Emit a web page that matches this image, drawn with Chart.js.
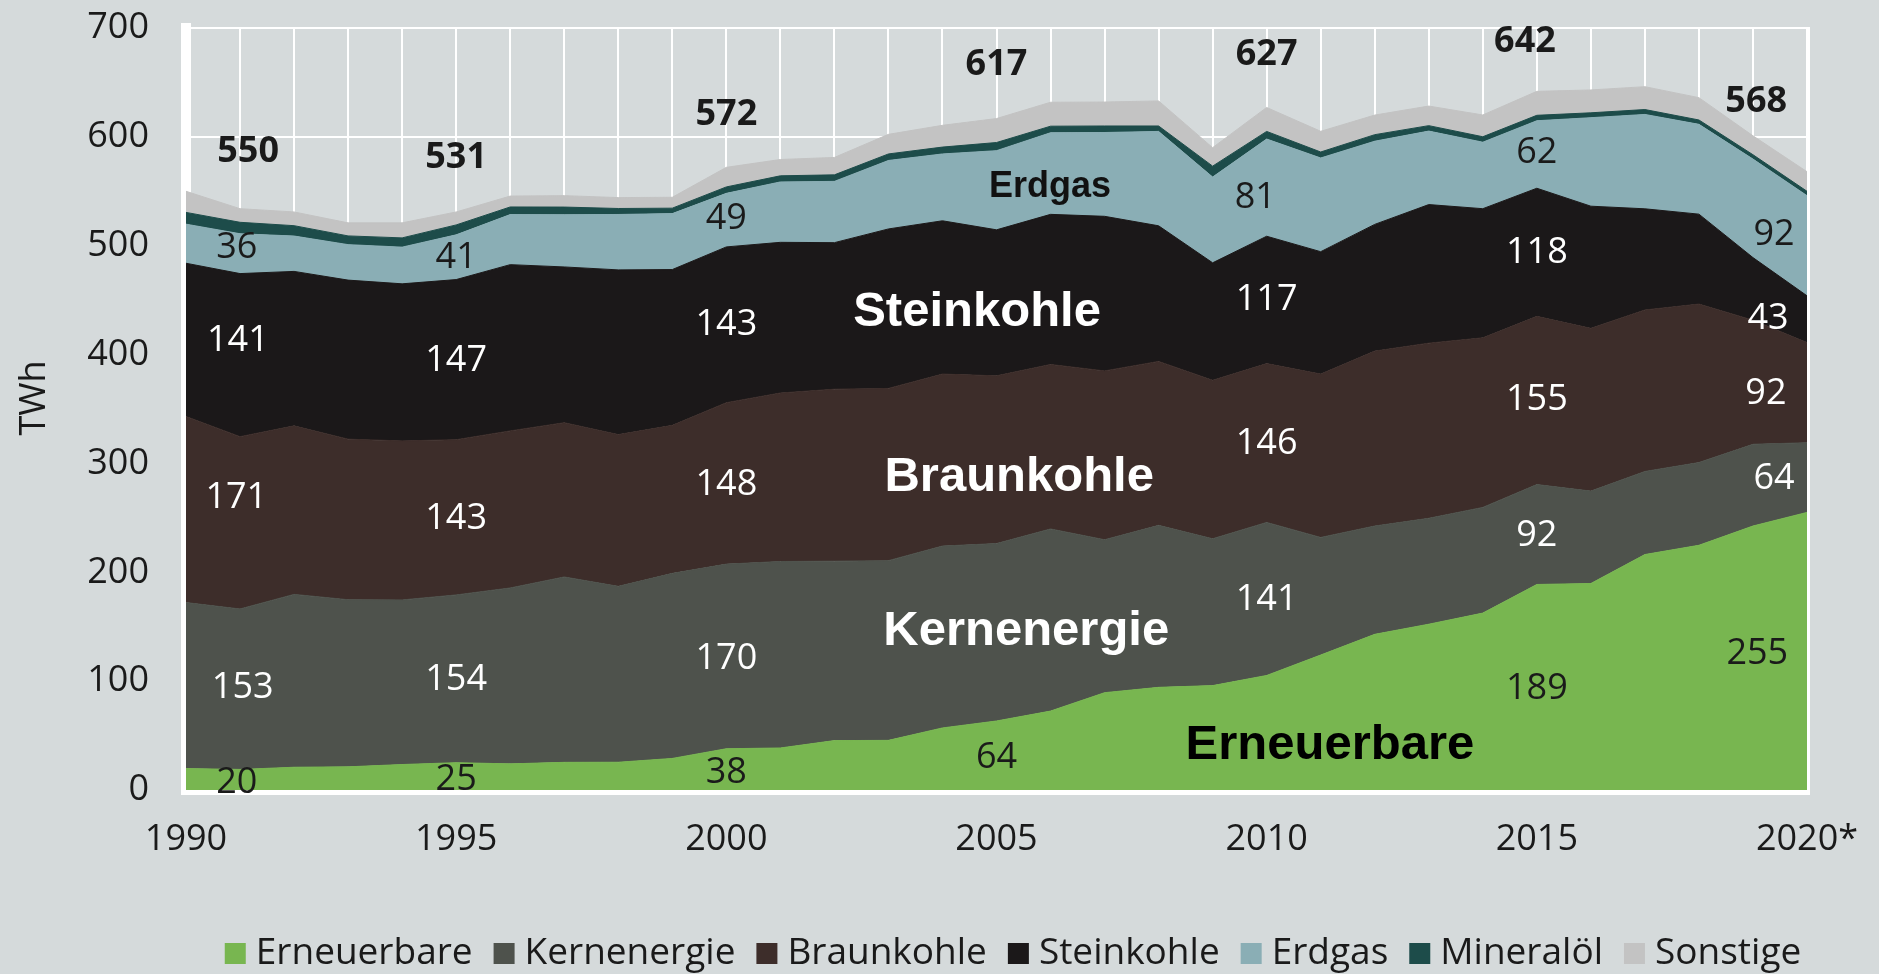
<!DOCTYPE html>
<html>
<head>
<meta charset="utf-8">
<title>Bruttostromerzeugung</title>
<script src="https://cdn.jsdelivr.net/npm/chart.js@4.4.1/dist/chart.umd.min.js"></script>
<style>
    html, body { margin: 0; padding: 0; background: #d5dadb; }
    canvas { display: block; }
</style>
</head>
<body>
<canvas id="chart" width="1879" height="974"></canvas>
<script>
(function () {
    'use strict';

    // categories
    var years = [1990, 1991, 1992, 1993, 1994, 1995, 1996, 1997, 1998, 1999,
                 2000, 2001, 2002, 2003, 2004, 2005, 2006, 2007, 2008, 2009,
                 2010, 2011, 2012, 2013, 2014, 2015, 2016, 2017, 2018, 2019, 2020];

    var tickYears = [1990, 1995, 2000, 2005, 2010, 2015, 2020];
    var tickTexts = ['1990', '1995', '2000', '2005', '2010', '2015', '2020*'];

    // TWh
    var erneuerbare = [19.7, 18.9, 20.9, 21.3, 23.4, 25.1, 24.0, 25.4, 25.5, 29.0,
                       37.9, 38.6, 45.4, 45.6, 57.0, 63.4, 72.5, 89.4, 94.3, 95.9,
                       105.2, 124.0, 143.0, 152.3, 162.5, 188.8, 189.7, 216.3, 224.8, 242.5, 255];
    var kernenergie = [152.5, 147.4, 158.8, 153.5, 151.2, 154.1, 161.6, 170.3, 161.6, 170.0,
                       169.6, 171.3, 164.8, 165.1, 167.1, 163.0, 167.3, 140.5, 148.8, 134.9,
                       140.6, 108.0, 99.5, 97.3, 97.1, 91.8, 84.9, 76.3, 76.0, 75.1, 64];
    var braunkohle = [170.9, 158.3, 154.8, 147.5, 146.1, 142.6, 144.3, 141.7, 139.4, 136.0,
                      148.3, 154.8, 158.0, 158.2, 158.0, 154.1, 151.1, 155.1, 150.6, 145.6,
                      145.9, 150.1, 160.7, 160.9, 155.8, 154.5, 149.5, 148.4, 145.6, 114.0, 92];
    var steinkohle = [140.8, 149.8, 141.9, 146.1, 144.3, 147.1, 152.7, 143.1, 151.3, 143.1,
                      143.1, 138.4, 134.6, 146.5, 140.8, 134.1, 137.9, 142.0, 124.6, 107.9,
                      117.0, 112.4, 116.4, 127.3, 118.6, 117.7, 112.2, 92.9, 82.6, 57.5, 43];
    var erdgas = [35.9, 36.6, 32.5, 32.6, 33.7, 41.1, 46.0, 48.0, 50.9, 51.4,
                  49.2, 55.5, 56.3, 62.9, 61.4, 72.7, 75.0, 77.0, 86.7, 78.8,
                  89.3, 86.1, 76.4, 67.5, 61.1, 62.0, 81.3, 86.7, 82.5, 90.5, 92];
    var mineraloel = [10.8, 10.5, 9.5, 8.0, 8.5, 9.1, 7.0, 7.0, 5.5, 5.0,
                      5.9, 5.6, 6.0, 6.0, 6.3, 7.5, 6.0, 6.0, 5.0, 10.0,
                      7.0, 5.5, 6.0, 5.0, 5.0, 5.0, 4.5, 4.5, 4.0, 4.0, 4.0];
    var sonstige = [19.4, 12.5, 12.6, 12.0, 13.8, 11.9, 10.0, 10.5, 10.0, 10.0,
                    18.0, 15.0, 16.0, 18.0, 20.0, 22.0, 22.0, 22.0, 23.0, 17.0,
                    22.0, 19.0, 18.0, 18.0, 20.0, 22.0, 21.0, 21.0, 20.5, 17.4, 18.0];

    var seriesNames = ['Erneuerbare', 'Kernenergie', 'Braunkohle', 'Steinkohle', 'Erdgas', 'Mineralöl', 'Sonstige'];
    var seriesData = [erneuerbare, kernenergie, braunkohle, steinkohle, erdgas, mineraloel, sonstige];
    var seriesColors = ['#78b650', '#4e524c', '#3d2d2a', '#1b1819', '#8aaeb5', '#1d4c4a', '#c3c3c3'];

    // annotations: [year, TWh, text]
    var totalLabels = [
        [1991.15, 586, '550'], [1995, 580.6, '531'], [2000, 620, '572'], [2005, 666, '617'],
        [2010, 675, '627'], [2014.78, 687, '642'], [2019.06, 632, '568']
    ];
    var darkLabels = [
        [1990.94, 498, '36'], [1990.94, 6.5, '20'], [1995, 488.7, '41'], [1995, 9.2, '25'],
        [2000, 524.5, '49'], [2000, 15.6, '38'], [2005, 29.4, '64'], [2009.79, 543.8, '81'],
        [2015, 585.2, '62'], [2015, 92.8, '189'], [2019.39, 509.8, '92'], [2019.08, 124.9, '255']
    ];
    var lightLabels = [
        [1990.96, 412.5, '141'], [1990.93, 268.2, '171'], [1991.05, 93.7, '153'],
        [1995, 394.1, '147'], [1995, 249, '143'], [1995, 101, '154'],
        [2000, 427.2, '143'], [2000, 280.2, '148'], [2000, 120.3, '170'],
        [2010, 450.1, '117'], [2010, 317.8, '146'], [2010, 174.5, '141'],
        [2015, 493.3, '118'], [2015, 358.3, '155'], [2015, 233.3, '92'],
        [2019.28, 432.7, '43'], [2019.24, 363.8, '92'], [2019.39, 285.7, '64']
    ];
    var nameLabels = [
        [2004.64, 439.1, 'Steinkohle', '#ffffff', 49],
        [2005.42, 287.5, 'Braunkohle', '#ffffff', 49],
        [2005.55, 146, 'Kernenergie', '#ffffff', 49],
        [2011.17, 41.3, 'Erneuerbare', '#000000', 49],
        [2005.99, 553.9, 'Erdgas', '#111111', 36]
    ];

    var textColor = '#1a1a1a';
    var numFont = '"Open Sans", "Noto Sans", sans-serif';
    var boldFont = '"Liberation Sans", Arial, sans-serif';

    var datasets = seriesNames.map(function (name, i) {
        return {
            label: name,
            data: seriesData[i],
            backgroundColor: seriesColors[i],
            borderColor: seriesColors[i],
            borderWidth: 1,
            pointRadius: 0,
            pointHoverRadius: 0,
            tension: 0,
            fill: i === 0 ? 'origin' : '-1'
        };
    });

    var overlay = {
        id: 'overlay',
        afterDraw: function (chart) {
            var ctx = chart.ctx,
                xs = chart.scales.x,
                ys = chart.scales.y,
                area = chart.chartArea;

            function px(yr) { return xs.getPixelForValue(yr - years[0]); }

            ctx.save();

            // right frame edge
            ctx.strokeStyle = '#ffffff';
            ctx.lineWidth = 3;
            ctx.beginPath();
            ctx.moveTo(area.right + 1.5, area.top - 1);
            ctx.lineTo(area.right + 1.5, area.bottom + 5);
            ctx.stroke();

            ctx.textAlign = 'center';
            ctx.textBaseline = 'middle';

            ctx.font = 'bold 36px ' + numFont;
            ctx.fillStyle = textColor;
            totalLabels.forEach(function (l) {
                ctx.fillText(l[2], px(l[0]), ys.getPixelForValue(l[1]));
            });

            ctx.font = '36px ' + numFont;
            darkLabels.forEach(function (l) {
                ctx.fillText(l[2], px(l[0]), ys.getPixelForValue(l[1]));
            });
            ctx.fillStyle = '#ffffff';
            lightLabels.forEach(function (l) {
                ctx.fillText(l[2], px(l[0]), ys.getPixelForValue(l[1]));
            });

            nameLabels.forEach(function (l) {
                ctx.font = 'bold ' + l[4] + 'px ' + boldFont;
                ctx.fillStyle = l[3];
                ctx.fillText(l[2], px(l[0]), ys.getPixelForValue(l[1]));
            });

            // axis title
            ctx.save();
            ctx.translate(35, 398);
            ctx.rotate(-Math.PI / 2);
            ctx.font = '36px ' + numFont;
            ctx.fillStyle = textColor;
            ctx.fillText('TWh', 0, 0);
            ctx.restore();

            // legend row
            ctx.font = '37px ' + numFont;
            ctx.textAlign = 'left';
            ctx.textBaseline = 'alphabetic';
            var box = 21, gapIn = 10, gapOut = 21, total = 0;
            var widths = seriesNames.map(function (n) { return ctx.measureText(n).width; });
            widths.forEach(function (w, i) {
                total += box + gapIn + w + (i < widths.length - 1 ? gapOut : 0);
            });
            var lx = 1013 - total / 2;
            seriesNames.forEach(function (n, i) {
                ctx.fillStyle = seriesColors[i];
                ctx.fillRect(lx, 943, box, box);
                ctx.fillStyle = textColor;
                ctx.fillText(n, lx + box + gapIn, 964);
                lx += box + gapIn + widths[i] + gapOut;
            });

            ctx.restore();
        }
    };

    new Chart(document.getElementById('chart'), {
        type: 'line',
        data: {
            labels: years,
            datasets: datasets
        },
        options: {
            responsive: false,
            animation: false,
            devicePixelRatio: 1,
            layout: {
                padding: {left: 0, right: 72, top: 28, bottom: 100}
            },
            plugins: {
                legend: {display: false},
                tooltip: {enabled: false}
            },
            scales: {
                x: {
                    afterFit: function (scale) {
                        scale.height = 84;
                        scale.paddingLeft = 0;
                        scale.paddingRight = 0;
                    },
                    grid: {color: '#ffffff', lineWidth: 2, drawTicks: false},
                    border: {color: '#ffffff', width: 10},
                    ticks: {
                        autoSkip: false,
                        maxRotation: 0,
                        padding: 28,
                        color: textColor,
                        font: {family: numFont, size: 36},
                        callback: function (value, index) {
                            var k = tickYears.indexOf(years[index]);
                            return k >= 0 ? tickTexts[k] : '';
                        }
                    }
                },
                y: {
                    stacked: true,
                    min: 0,
                    max: 700,
                    afterFit: function (scale) {
                        scale.width = 186;
                        scale.paddingTop = 0;
                        scale.paddingBottom = 0;
                    },
                    grid: {color: '#ffffff', lineWidth: 2, drawTicks: false},
                    border: {color: '#ffffff', width: 10},
                    ticks: {
                        stepSize: 100,
                        padding: 37,
                        color: textColor,
                        font: {family: numFont, size: 36}
                    }
                }
            }
        },
        plugins: [overlay]
    });
})();
</script>
</body>
</html>
